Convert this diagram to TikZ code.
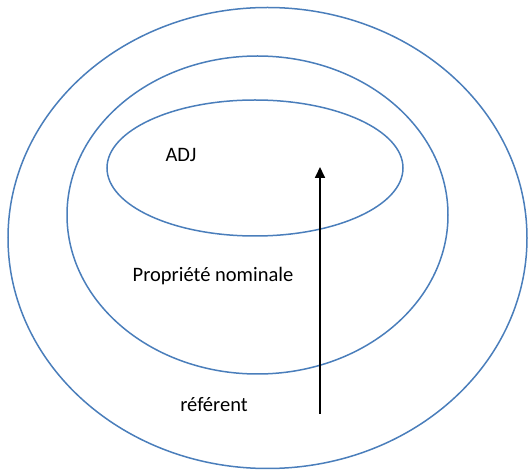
\documentclass[tikz,border=0pt]{standalone}
\usepackage{fontspec}
\setmainfont{Carlito}
\usetikzlibrary{arrows.meta,shapes.geometric}
\definecolor{ringblue}{HTML}{4A7EBB}
\tikzset{
  ring/.style={draw=ringblue,ellipse,line width=1.5pt,inner sep=0pt},
  lbl/.style={font=\fontsize{20.5}{24}\selectfont,inner sep=0pt},
  flow/.style={-{Triangle[length=11pt,width=10pt]},line width=1.7pt},
}

\begin{document}
\begin{tikzpicture}[x=1pt,y=-1pt]
			\useasboundingbox (0,0) rectangle (528,470);
			\node[ring,minimum width=519pt,minimum height=461pt] (ref) at (267.5,238) {};
			\node[ring,minimum width=381pt,minimum height=318pt] (prop) at (257.5,215) {};
			\node[ring,minimum width=296pt,minimum height=136pt] (adj) at (255,168) {};
			\node[lbl] (tadj) at (181,155) {ADJ};
			\node[lbl] (tprop) at (213,276) {Propriété nominale};
			\node[lbl] (tref) at (214,405) {référent};
			\coordinate (s) at (320,414);
			\coordinate (e) at (320,167);
			\draw[flow] (s)--(e);
		\end{tikzpicture}
\end{document}
